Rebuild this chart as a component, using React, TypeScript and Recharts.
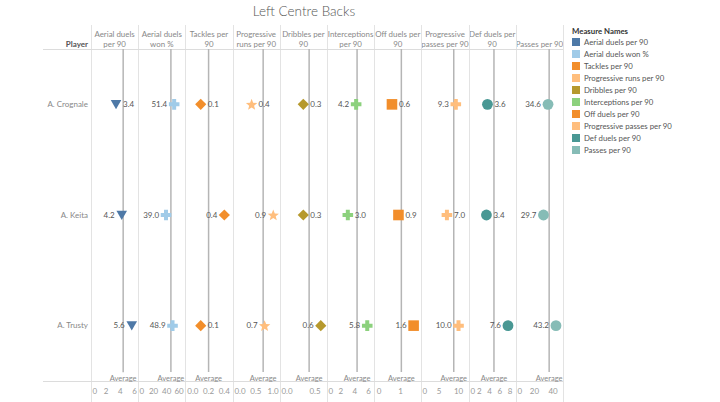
import { ScatterChart, Scatter, XAxis, YAxis, ReferenceLine } from "recharts";

// rows, top to bottom
const players = ["A. Crognale", "A. Keita", "A. Trusty"];

const measureNames = [
  "Aerial duels per 90",
  "Aerial duels won %",
  "Tackles per 90",
  "Progressive runs per 90",
  "Dribbles per 90",
  "Interceptions per 90",
  "Off duels per 90",
  "Progressive passes per 90",
  "Def duels per 90",
  "Passes per 90",
];

const headerLines = [
  ["Aerial duels", "per 90"],
  ["Aerial duels", "won %"],
  ["Tackles per", "90"],
  ["Progressive", "runs per 90"],
  ["Dribbles per", "90"],
  ["Interceptions", "per 90"],
  ["Off duels per", "90"],
  ["Progressive", "passes per 90"],
  ["Def duels per", "90"],
  ["Passes per 90"],
];

// values per player (Crognale, Keita, Trusty)
const aerialDuels = [3.4, 4.2, 5.6];
const aerialWon = [51.4, 39.0, 48.9];
const tackles = [0.1, 0.4, 0.1];
const progRuns = [0.4, 0.9, 0.7];
const dribbles = [0.3, 0.3, 0.6];
const interceptions = [4.2, 3.0, 5.8];
const offDuels = [0.6, 0.9, 1.6];
const progPasses = [9.3, 7.0, 10.0];
const defDuels = [3.6, 3.4, 7.6];
const passes = [34.6, 29.7, 43.2];

const measureValues = [aerialDuels, aerialWon, tackles, progRuns, dribbles, interceptions, offDuels, progPasses, defDuels, passes];

const tickLabels = [
  ["0", "2", "4", "6"],
  ["0", "20", "40", "60"],
  ["0.0", "0.2", "0.4"],
  ["0.0", "0.5", "1.0"],
  ["0.0", "0.5"],
  ["0", "2", "4", "6"],
  ["0", "1"],
  ["0", "5", "10"],
  ["0", "2", "4", "6", "8"],
  ["0", "20", "40"],
];

const axisDomains = [
  [-0.1, 6.5],
  [-3.7, 68.2],
  [-0.1, 0.5],
  [-0.03, 1.06],
  [-0.1, 0.71],
  [0, 6.8],
  [-0.23, 1.95],
  [0.3, 12.5],
  [0, 9.2],
  [0, 51],
];

const colors = ["#4e79a7", "#a0cbe8", "#f28e2b", "#ffbe7d", "#b6992d", "#8cd17d", "#f28e2b", "#ffbe7d", "#499894", "#86bcb6"];
const shapes = ["triangle", "cross", "diamond", "star", "diamond", "cross", "square", "cross", "circle", "circle"];

const FONT = "Lato, 'Noto Sans', sans-serif";
const PANEL_LEFT = 91;
const PANEL_W = 47.2;
const TOP = 49;
const CHART_H = 353;
const AXIS_H = 21;
const NAME_W = 48;

const textWidth = (s: string) => [...s].reduce((a, c) => a + (c === "." ? 2.2 : 4.5), 0);

const markShape = (kind: string, cx: number, cy: number, color: string) => {
  switch (kind) {
    case "triangle":
      return <polygon points={`${cx - 5.3},${cy - 4.3} ${cx + 5.3},${cy - 4.3} ${cx},${cy + 4.9}`} fill={color} />;
    case "cross": {
      const a = 5.3, t = 2;
      return (
        <path
          d={`M${cx - t},${cy - a}H${cx + t}V${cy - t}H${cx + a}V${cy + t}H${cx + t}V${cy + a}H${cx - t}V${cy + t}H${cx - a}V${cy - t}H${cx - t}Z`}
          fill={color}
        />
      );
    }
    case "diamond":
      return <polygon points={`${cx},${cy - 5.6} ${cx + 5.6},${cy} ${cx},${cy + 5.6} ${cx - 5.6},${cy}`} fill={color} />;
    case "star": {
      const pts = [];
      for (let k = 0; k < 10; k++) {
        const r = k % 2 === 0 ? 6 : 2.6;
        const ang = -Math.PI / 2 + (k * Math.PI) / 5;
        pts.push(`${cx + r * Math.cos(ang)},${cy + 0.5 + r * Math.sin(ang)}`);
      }
      return <polygon points={pts.join(" ")} fill={color} />;
    }
    case "square":
      return <rect x={cx - 5.3} y={cy - 5.3} width={10.6} height={10.6} fill={color} />;
    default:
      return <circle cx={cx} cy={cy} r={5.4} fill={color} />;
  }
};

const Marker = ({ cx, cy, payload, kind, color, right }: any) => {
  if (cx == null || cy == null) return null;
  const text = payload.value.toFixed(1);
  const onRight = cx + 7 + textWidth(text) + 1 <= right;
  return (
    <g>
      {markShape(kind, cx, cy, color)}
      <text
        x={onRight ? cx + 7 : cx - 7}
        y={cy}
        dy="0.35em"
        textAnchor={onRight ? "start" : "end"}
        fontSize={8}
        fontFamily={FONT}
        fill="#555"
      >
        {text}
      </text>
    </g>
  );
};

const AxisTick = ({ x, y, payload, labels, left, right }: any) => {
  const label = labels.find((s: string) => Number(s) === payload.value) ?? String(payload.value);
  const w = textWidth(label);
  let tx = x;
  let anchor = "middle";
  if (x - w / 2 < left + 1) {
    tx = left + 1.5;
    anchor = "start";
  } else if (x + w / 2 > right - 1) {
    tx = right - 1.5;
    anchor = "end";
  }
  return (
    <text x={tx} y={y} dy="0.71em" textAnchor={anchor} fontSize={8} fontFamily={FONT} fill="#999">
      {label}
    </text>
  );
};

const PlayerTick = ({ x, y, payload }: any) => (
  <text x={x} y={y} dy="0.35em" textAnchor="end" fontSize={8} fontFamily={FONT} fill="#888">
    {players[Math.floor(payload.value)]}
  </text>
);

const AverageLabel = ({ viewBox }: any) => (
  <text
    x={viewBox.x}
    y={viewBox.y + viewBox.height + 3.5}
    dy="0.71em"
    textAnchor="middle"
    fontSize={7.5}
    fontFamily={FONT}
    fill="#888"
  >
    Average
  </text>
);

const Panel = ({ m }: { m: number }) => {
  const first = m === 0;
  const yw = first ? NAME_W : 0;
  const width = yw + PANEL_W;
  const values = measureValues[m];
  const rows = values.map((v, r) => ({ value: v, row: r + 0.5 }));
  const avg = values.reduce((a, b) => a + b, 0) / values.length;
  return (
    <div style={{ position: "absolute", left: PANEL_LEFT + m * PANEL_W - yw, top: TOP }}>
      <ScatterChart width={width} height={CHART_H} margin={{ top: 0, right: 0, bottom: 0, left: 0 }}>
        <XAxis
          type="number"
          dataKey="value"
          domain={axisDomains[m]}
          allowDataOverflow
          ticks={tickLabels[m].map(Number)}
          interval={0}
          height={AXIS_H}
          axisLine={false}
          tickLine={false}
          tickSize={0}
          tickMargin={7}
          tick={<AxisTick labels={tickLabels[m]} left={yw} right={width} />}
        />
        <YAxis
          type="number"
          dataKey="row"
          domain={[0, 3]}
          reversed
          allowDataOverflow
          hide={!first}
          width={yw}
          ticks={[0.5, 1.5, 2.5]}
          interval={0}
          axisLine={false}
          tickLine={false}
          tickSize={0}
          tickMargin={3}
          tick={<PlayerTick />}
        />
        <ReferenceLine
          segment={[{ x: avg, y: 0 }, { x: avg, y: 2.92 }]}
          stroke="#b5b5b5"
          strokeWidth={1.5}
          label={AverageLabel}
        />
        <Scatter
          data={rows}
          fill={colors[m]}
          isAnimationActive={false}
          shape={(p: any) => <Marker {...p} kind={shapes[m]} color={colors[m]} right={width} />}
        />
      </ScatterChart>
    </div>
  );
};

export default function App() {
  const lineColor = "#e3e3e3";
  return (
    <div style={{ position: "absolute", left: 0, top: 0, width: 720, height: 402, background: "#fff", fontFamily: FONT, overflow: "hidden" }}>
      <div style={{ position: "absolute", left: 0, top: 3, width: 608, textAlign: "center", fontSize: 13.5, color: "#555", fontWeight: 300 }}>
        Left Centre Backs
      </div>

      {/* header */}
      <div style={{ position: "absolute", left: 0, top: 39, width: 88, textAlign: "right", fontSize: 8, fontWeight: 700, color: "#555", lineHeight: "10px" }}>
        Player
      </div>
      {headerLines.map((lines, m) => (
        <div
          key={m}
          style={{
            position: "absolute",
            left: PANEL_LEFT + m * PANEL_W - 4,
            top: 25,
            width: PANEL_W + 8,
            height: 24,
            display: "flex",
            flexDirection: "column",
            justifyContent: "flex-end",
            alignItems: "center",
            fontSize: 7.9,
            lineHeight: "10px",
            color: "#888",
            whiteSpace: "nowrap",
          }}
        >
          {lines.map((l, k) => (
            <div key={k}>{l}</div>
          ))}
        </div>
      ))}

      {/* grid lines */}
      {measureNames.concat([""]).map((_, i) => (
        <div key={i} style={{ position: "absolute", left: PANEL_LEFT + i * PANEL_W, top: 25, width: 1, height: 377, background: lineColor }} />
      ))}
      <div style={{ position: "absolute", left: 43, top: TOP, width: PANEL_LEFT + 10 * PANEL_W - 43, height: 1, background: "#dcdcdc" }} />
      <div style={{ position: "absolute", left: 43, top: TOP + CHART_H - AXIS_H, width: PANEL_LEFT + 10 * PANEL_W - 43, height: 1, background: "#dcdcdc" }} />

      {measureNames.map((_, m) => (
        <Panel key={m} m={m} />
      ))}

      {/* legend */}
      <div style={{ position: "absolute", left: 572, top: 26, fontSize: 7.8, color: "#333", fontWeight: 700 }}>Measure Names</div>
      {measureNames.map((name, m) => (
        <div key={name} style={{ position: "absolute", left: 572, top: 36.5 + m * 11.9, height: 11.9, display: "flex", alignItems: "center", fontSize: 7.8, color: "#555", whiteSpace: "nowrap" }}>
          <span style={{ display: "inline-block", width: 8, height: 8, background: colors[m], marginRight: 4 }} />
          {name}
        </div>
      ))}
    </div>
  );
}
